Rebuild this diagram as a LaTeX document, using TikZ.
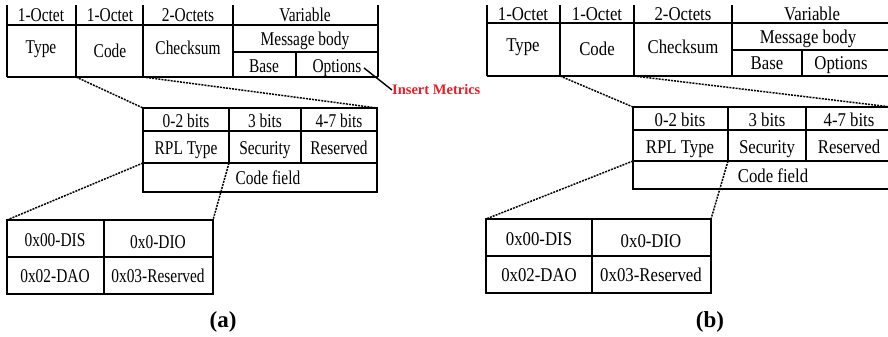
\documentclass[tikz,border=0pt]{standalone}
\usepackage{fontspec}
\setmainfont{Liberation Serif}
\newfontfamily\fa[FakeStretch=0.79]{Liberation Serif}
\newfontfamily\fb[FakeStretch=0.86]{Liberation Serif}
\definecolor{insred}{RGB}{235,30,40}
\tikzset{
  tbl/.style={line width=1.8pt},
  dotl/.style={line width=1.5pt, dash pattern=on 2pt off 1.1pt},
  ta/.style={anchor=base, inner sep=0pt, yshift=-6pt, font=\fa\fontsize{19.5}{20}\selectfont},
  tb/.style={anchor=base, inner sep=0pt, yshift=-6pt, font=\fb\fontsize{19.5}{20}\selectfont},
  caplbl/.style={inner sep=0pt, font=\bfseries\fontsize{23}{24}\selectfont},
  inslbl/.style={inner sep=0pt, text=insred, font=\bfseries\fontsize{14.5}{15}\selectfont}
}
\begin{document}
\begin{tikzpicture}[x=1pt,y=-1pt]
\useasboundingbox (0,0) rectangle (888,337);
\clip (0,0) rectangle (888,337);
% ================= panel (a) =================
% top table
\draw[tbl] (7,25) -- (378,25) (233,52) -- (378,52) (7,77) -- (378,77);
\foreach \x in {7,76,143,233,378} \draw[tbl] (\x,5) -- (\x,77);
\draw[tbl] (296,52) -- (296,77);
\coordinate (aCodeBL) at (76,77);
\coordinate (aCheckBL) at (143,77);
\node[ta] (a1) at (41,16) {1-Octet};
\node[ta] (a2) at (110,16) {1-Octet};
\node[ta] (a3) at (188,16) {2-Octets};
\node[ta] (a4) at (305,16) {Variable};
\node[ta] (aType) at (41,47) {Type};
\node[ta] (aCode) at (110,51) {Code};
\node[ta] (aCheck) at (188,49) {Checksum};
\node[ta] (aMsg) at (305,40) {Message body};
\node[ta] (aBase) at (264,66) {Base};
\node[ta] (aOpt) at (337,66) {Options};
% insert metrics
\node[inslbl, anchor=west] (ins) at (392,90) {Insert Metrics};
\coordinate (insA) at (364,68);
\draw[line width=1.4pt] (insA) -- (ins.west);
% middle table
\draw[tbl] (143,108) rectangle (377,192);
\draw[tbl] (143,131) -- (377,131) (143,163) -- (377,163);
\draw[tbl] (229,108) -- (229,163) (301,108) -- (301,163);
\coordinate (aMidTL) at (143,108);
\coordinate (aMidTR) at (377,108);
\coordinate (aRplBL) at (143,163);
\coordinate (aRplBR) at (229,163);
\node[ta] (m1) at (186,121) {0-2 bits};
\node[ta] (m2) at (265,121) {3 bits};
\node[ta] (m3) at (339,121) {4-7 bits};
\node[ta] (m4) at (186,148) {RPL Type};
\node[ta] (m5) at (265,148) {Security};
\node[ta] (m6) at (339,148) {Reserved};
\node[ta] (m7) at (268,178) {Code field};
% bottom table
\draw[tbl] (7,220) rectangle (213,294);
\draw[tbl] (7,257) -- (213,257) (104,220) -- (104,294);
\coordinate (aBotTL) at (7,220);
\coordinate (aBotTR) at (213,220);
\node[ta] (b1) at (55,240) {0x00-DIS};
\node[ta] (b2) at (158,242) {0x0-DIO};
\node[ta] (b3) at (55,276) {0x02-DAO};
\node[ta] (b4) at (158,276) {0x03-Reserved};
% dotted connectors
\draw[dotl] (aCodeBL) -- (aMidTL);
\draw[dotl] (aCheckBL) -- (aMidTR);
\draw[dotl] (aRplBL) -- (aBotTL);
\draw[dotl] (aRplBR) -- (aBotTR);
\node[caplbl] (capa) at (223,322) {(a)};
% ================= panel (b) =================
\draw[tbl] (487,23) -- (891,23) (732,50) -- (891,50) (487,76) -- (891,76);
\foreach \x in {487,560,634,732,891} \draw[tbl] (\x,5) -- (\x,76);
\draw[tbl] (802,50) -- (802,76);
\coordinate (bCodeBL) at (560,76);
\coordinate (bCheckBL) at (634,76);
\node[tb] (c1) at (523,15) {1-Octet};
\node[tb] (c2) at (597,15) {1-Octet};
\node[tb] (c3) at (683,15) {2-Octets};
\node[tb] (c4) at (812,15) {Variable};
\node[tb] (cType) at (523,46) {Type};
\node[tb] (cCode) at (597,50) {Code};
\node[tb] (cCheck) at (683,48) {Checksum};
\node[tb] (cMsg) at (808,38) {Message body};
\node[tb] (cBase) at (767,64) {Base};
\node[tb] (cOpt) at (841,64) {Options};
% middle table
\draw[tbl] (633,107) rectangle (891,189);
\draw[tbl] (633,130) -- (891,130) (633,161) -- (891,161);
\draw[tbl] (728,107) -- (728,161) (806,107) -- (806,161);
\coordinate (bMidTL) at (633,107);
\coordinate (bMidTR) at (891,107);
\coordinate (bRplBL) at (633,161);
\coordinate (bRplBR) at (728,161);
\node[tb] (n1) at (680,120) {0-2 bits};
\node[tb] (n2) at (767,120) {3 bits};
\node[tb] (n3) at (849,120) {4-7 bits};
\node[tb] (n4) at (680,147) {RPL Type};
\node[tb] (n5) at (767,147) {Security};
\node[tb] (n6) at (849,147) {Reserved};
\node[tb] (n7) at (773,176) {Code field};
% bottom table
\draw[tbl] (486,219) rectangle (711,293);
\draw[tbl] (486,256) -- (711,256) (592,219) -- (592,293);
\coordinate (bBotTL) at (486,219);
\coordinate (bBotTR) at (711,219);
\node[tb] (d1) at (539,239) {0x00-DIS};
\node[tb] (d2) at (651,241) {0x0-DIO};
\node[tb] (d3) at (539,275) {0x02-DAO};
\node[tb] (d4) at (651,275) {0x03-Reserved};
\draw[dotl] (bCodeBL) -- (bMidTL);
\draw[dotl] (bCheckBL) -- (bMidTR);
\draw[dotl] (bRplBL) -- (bBotTL);
\draw[dotl] (bRplBR) -- (bBotTR);
\node[caplbl] (capb) at (710,322) {(b)};
\end{tikzpicture}
\end{document}
